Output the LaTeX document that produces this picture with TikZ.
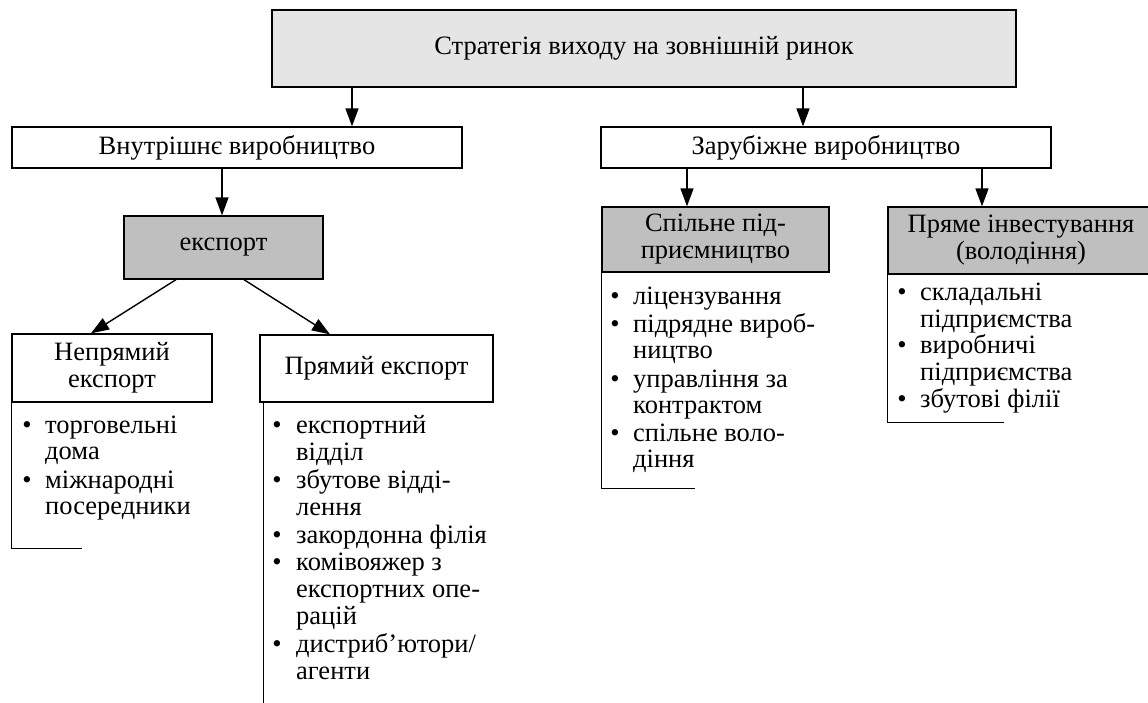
\documentclass[tikz,border=0pt]{standalone}
\usepackage{fontspec}
\setmainfont{Liberation Serif}
\usetikzlibrary{arrows.meta}
\newcommand\fsz{\fontsize{26.5}{27}\selectfont}
\begin{document}
\begin{tikzpicture}[x=1pt,y=-1pt,
  box/.style={draw, line width=1.3pt, inner sep=0pt, align=center, font=\fsz},
  arr/.style={line width=1.4pt, -{Triangle[length=18pt,width=13pt]}},
  listline/.style={line width=1.3pt},
  itm/.style={anchor=base west, inner sep=0pt, font=\fsz},
  bul/.style={anchor=base, inner sep=0pt, font=\fsz}]
\useasboundingbox (0,0) rectangle (1148,702);
% boxes
\node[box, fill=black!10, minimum width=744pt, minimum height=77pt] (top) at (644,48.5) {Стратегія виходу на зовнішній ринок};
\node[box, minimum width=450pt, minimum height=41pt] (inner) at (237,147.5) {Внутрішнє виробництво};
\node[box, minimum width=450pt, minimum height=41pt] (foreign) at (826,147.5) {Зарубіжне виробництво};
\node[box, fill=black!25, minimum width=199pt, minimum height=63pt] (export) at (223.5,247.5) {експорт};
\node[box, minimum width=200pt, minimum height=68pt] (ind) at (112,368) {Непрямий\\експорт};
\node[box, minimum width=233pt, minimum height=67pt] (dir) at (376.5,368.5) {Прямий експорт};
\node[box, fill=black!25, minimum width=227pt, minimum height=65pt] (joint) at (715.5,239.5) {Спільне під-\\приємництво};
\node[box, fill=black!25, minimum width=266pt, minimum height=67pt] (invest) at (1021,240.5) {Пряме інвестування\\(володіння)};
% x positions of connectors
\coordinate (xa) at (352,0);
\coordinate (xb) at (803,0);
\coordinate (xc) at (222,0);
\coordinate (xd) at (176,0);
\coordinate (xe) at (91,0);
\coordinate (xf) at (244,0);
\coordinate (xg) at (330,0);
\coordinate (xh) at (687,0);
\coordinate (xi) at (982,0);
% connectors
\draw[arr] (top.south -| xa) -- (inner.north -| xa);
\draw[arr] (top.south -| xb) -- (foreign.north -| xb);
\draw[arr] (inner.south -| xc) -- (export.north -| xc);
\draw[arr] (export.south -| xd) -- (ind.north -| xe);
\draw[arr] (export.south -| xf) -- (dir.north -| xg);
\draw[arr] (foreign.south -| xh) -- (joint.north -| xh);
\draw[arr] (foreign.south -| xi) -- (invest.north -| xi);
% list frames
\draw[listline] (ind.south west) -- ++(0,146) -- ++(71,0);
\draw[listline] ([xshift=4pt]dir.south west) -- ++(0,310);
\draw[listline] (joint.south west) -- ++(0,216) -- ++(94,0);
\draw[listline] (invest.south west) -- ++(0,148) -- ++(117,0);
% lists
\foreach \y/\b/\t [count=\i] in {433/1/торговельні, 459/0/дома, 488/1/міжнародні, 514/0/посередники}{
  \node[itm] (a\i) at (45,\y) {\t};
  \ifnum\b=1 \node[bul] (ab\i) at (27,\y) {•};\fi
}
\foreach \y/\b/\t [count=\i] in {433/1/експортний, 460/0/відділ, 488/1/збутове відді-, 515/0/лення, 543/1/закордонна філія, 570/1/комівояжер з, 597/0/експортних опе-, 624/0/рацій, 652/1/{дистриб’ютори/}, 679/0/агенти}{
  \node[itm] (b\i) at (296,\y) {\t};
  \ifnum\b=1 \node[bul] (bb\i) at (277,\y) {•};\fi
}
\foreach \y/\b/\t [count=\i] in {304/1/ліцензування, 332/1/підрядне вироб-, 358/0/ництво, 387/1/управління за, 413/0/контрактом, 441/1/спільне воло-, 467/0/діння}{
  \node[itm] (c\i) at (633,\y) {\t};
  \ifnum\b=1 \node[bul] (cb\i) at (615,\y) {•};\fi
}
\foreach \y/\b/\t [count=\i] in {300/1/складальні, 327/0/підприємства, 353/1/виробничі, 380/0/підприємства, 407/1/збутові філії}{
  \node[itm] (d\i) at (920,\y) {\t};
  \ifnum\b=1 \node[bul] (db\i) at (902,\y) {•};\fi
}
\end{tikzpicture}
\end{document}
